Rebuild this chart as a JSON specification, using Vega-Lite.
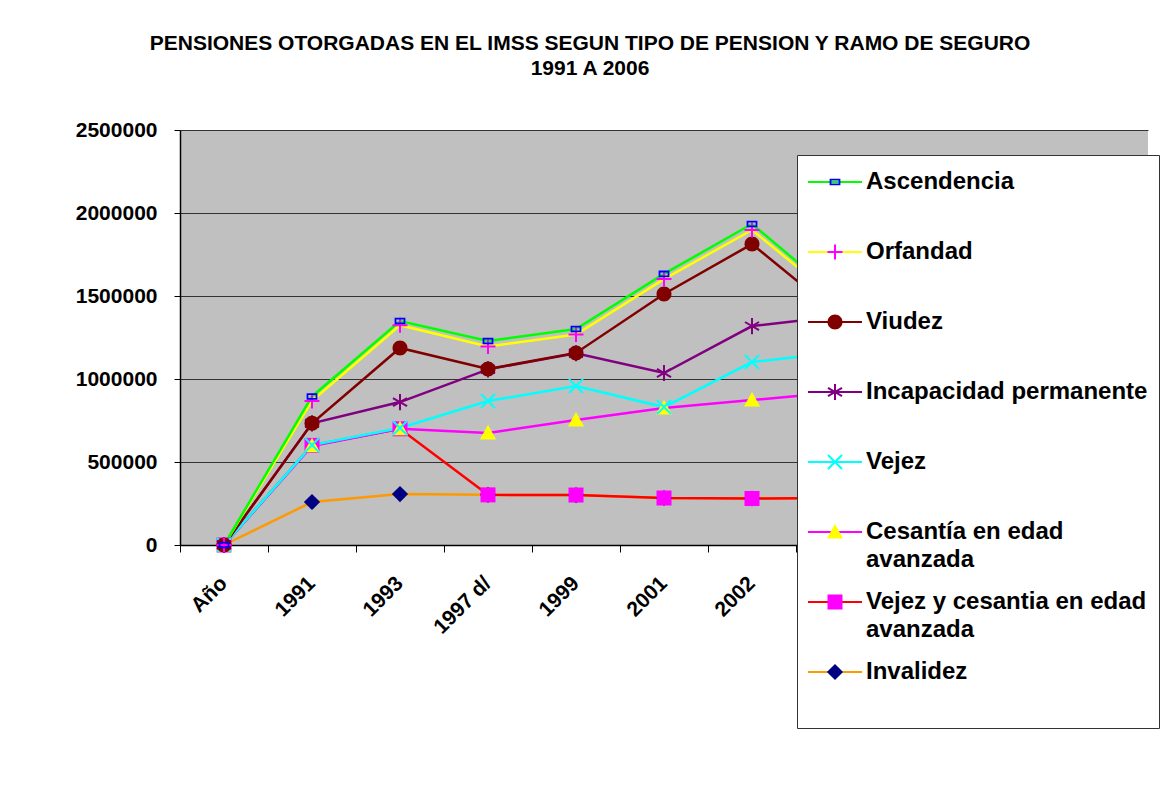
{
  "$schema": "https://vega.github.io/schema/vega-lite/v6.json",
  "autosize": {"type": "none"},
  "padding": {"left": 180, "top": 130, "right": 22, "bottom": 243},
  "width": 968,
  "height": 415,
  "background": "white",
  "config": {
    "font": "Liberation Sans",
    "view": {"stroke": null, "fill": "#C0C0C0"}
  },
  "title": {
    "text": ["PENSIONES OTORGADAS EN EL IMSS SEGUN TIPO DE PENSION Y RAMO DE SEGURO", "1991 A 2006"],
    "anchor": "middle",
    "frame": "group",
    "dx": -74,
    "offset": 40,
    "fontSize": 21,
    "fontWeight": "bold",
    "color": "black",
    "lineHeight": 25
  },
  "data": {
    "values": [
      {"serie": "Invalidez", "anio": "Año", "valor": 0},
      {"serie": "Invalidez", "anio": "1991", "valor": 259000},
      {"serie": "Invalidez", "anio": "1993", "valor": 307000},
      {"serie": "Invalidez", "anio": "1997 d/", "valor": 302000},
      {"serie": "Invalidez", "anio": "1999", "valor": 301000},
      {"serie": "Invalidez", "anio": "2001", "valor": 283000},
      {"serie": "Invalidez", "anio": "2002", "valor": 280000},
      {"serie": "Invalidez", "anio": "2003", "valor": 283000},
      {"serie": "Invalidez", "anio": "2004", "valor": 290000},
      {"serie": "Invalidez", "anio": "2005", "valor": 295000},
      {"serie": "Invalidez", "anio": "2006", "valor": 300000},
      {"serie": "Vejez y cesantia en edad avanzada", "anio": "Año", "valor": 0},
      {"serie": "Vejez y cesantia en edad avanzada", "anio": "1991", "valor": 600000},
      {"serie": "Vejez y cesantia en edad avanzada", "anio": "1993", "valor": 700000},
      {"serie": "Vejez y cesantia en edad avanzada", "anio": "1997 d/", "valor": 302000},
      {"serie": "Vejez y cesantia en edad avanzada", "anio": "1999", "valor": 301000},
      {"serie": "Vejez y cesantia en edad avanzada", "anio": "2001", "valor": 283000},
      {"serie": "Vejez y cesantia en edad avanzada", "anio": "2002", "valor": 280000},
      {"serie": "Vejez y cesantia en edad avanzada", "anio": "2003", "valor": 283000},
      {"serie": "Vejez y cesantia en edad avanzada", "anio": "2004", "valor": 290000},
      {"serie": "Vejez y cesantia en edad avanzada", "anio": "2005", "valor": 295000},
      {"serie": "Vejez y cesantia en edad avanzada", "anio": "2006", "valor": 300000},
      {"serie": "Cesantía en edad avanzada", "anio": "Año", "valor": 0},
      {"serie": "Cesantía en edad avanzada", "anio": "1991", "valor": 597000},
      {"serie": "Cesantía en edad avanzada", "anio": "1993", "valor": 700000},
      {"serie": "Cesantía en edad avanzada", "anio": "1997 d/", "valor": 675000},
      {"serie": "Cesantía en edad avanzada", "anio": "1999", "valor": 753000},
      {"serie": "Cesantía en edad avanzada", "anio": "2001", "valor": 825000},
      {"serie": "Cesantía en edad avanzada", "anio": "2002", "valor": 873000},
      {"serie": "Cesantía en edad avanzada", "anio": "2003", "valor": 922000},
      {"serie": "Cesantía en edad avanzada", "anio": "2004", "valor": 960000},
      {"serie": "Cesantía en edad avanzada", "anio": "2005", "valor": 1000000},
      {"serie": "Cesantía en edad avanzada", "anio": "2006", "valor": 1040000},
      {"serie": "Vejez", "anio": "Año", "valor": 0},
      {"serie": "Vejez", "anio": "1991", "valor": 602000},
      {"serie": "Vejez", "anio": "1993", "valor": 705000},
      {"serie": "Vejez", "anio": "1997 d/", "valor": 867000},
      {"serie": "Vejez", "anio": "1999", "valor": 958000},
      {"serie": "Vejez", "anio": "2001", "valor": 831000},
      {"serie": "Vejez", "anio": "2002", "valor": 1102000},
      {"serie": "Vejez", "anio": "2003", "valor": 1163000},
      {"serie": "Vejez", "anio": "2004", "valor": 1210000},
      {"serie": "Vejez", "anio": "2005", "valor": 1260000},
      {"serie": "Vejez", "anio": "2006", "valor": 1310000},
      {"serie": "Incapacidad permanente", "anio": "Año", "valor": 0},
      {"serie": "Incapacidad permanente", "anio": "1991", "valor": 733000},
      {"serie": "Incapacidad permanente", "anio": "1993", "valor": 861000},
      {"serie": "Incapacidad permanente", "anio": "1997 d/", "valor": 1058000},
      {"serie": "Incapacidad permanente", "anio": "1999", "valor": 1155000},
      {"serie": "Incapacidad permanente", "anio": "2001", "valor": 1036000},
      {"serie": "Incapacidad permanente", "anio": "2002", "valor": 1319000},
      {"serie": "Incapacidad permanente", "anio": "2003", "valor": 1380000},
      {"serie": "Incapacidad permanente", "anio": "2004", "valor": 1420000},
      {"serie": "Incapacidad permanente", "anio": "2005", "valor": 1470000},
      {"serie": "Incapacidad permanente", "anio": "2006", "valor": 1530000},
      {"serie": "Viudez", "anio": "Año", "valor": 0},
      {"serie": "Viudez", "anio": "1991", "valor": 733000},
      {"serie": "Viudez", "anio": "1993", "valor": 1187000},
      {"serie": "Viudez", "anio": "1997 d/", "valor": 1060000},
      {"serie": "Viudez", "anio": "1999", "valor": 1157000},
      {"serie": "Viudez", "anio": "2001", "valor": 1512000},
      {"serie": "Viudez", "anio": "2002", "valor": 1813000},
      {"serie": "Viudez", "anio": "2003", "valor": 1380000},
      {"serie": "Viudez", "anio": "2004", "valor": 1450000},
      {"serie": "Viudez", "anio": "2005", "valor": 1535000},
      {"serie": "Viudez", "anio": "2006", "valor": 1600000},
      {"serie": "Orfandad", "anio": "Año", "valor": 0},
      {"serie": "Orfandad", "anio": "1991", "valor": 868000},
      {"serie": "Orfandad", "anio": "1993", "valor": 1324000},
      {"serie": "Orfandad", "anio": "1997 d/", "valor": 1196000},
      {"serie": "Orfandad", "anio": "1999", "valor": 1268000},
      {"serie": "Orfandad", "anio": "2001", "valor": 1602000},
      {"serie": "Orfandad", "anio": "2002", "valor": 1898000},
      {"serie": "Orfandad", "anio": "2003", "valor": 1464000},
      {"serie": "Orfandad", "anio": "2004", "valor": 1535000},
      {"serie": "Orfandad", "anio": "2005", "valor": 1625000},
      {"serie": "Orfandad", "anio": "2006", "valor": 1695000},
      {"serie": "Ascendencia", "anio": "Año", "valor": 0},
      {"serie": "Ascendencia", "anio": "1991", "valor": 895000},
      {"serie": "Ascendencia", "anio": "1993", "valor": 1349000},
      {"serie": "Ascendencia", "anio": "1997 d/", "valor": 1229000},
      {"serie": "Ascendencia", "anio": "1999", "valor": 1301000},
      {"serie": "Ascendencia", "anio": "2001", "valor": 1633000},
      {"serie": "Ascendencia", "anio": "2002", "valor": 1934000},
      {"serie": "Ascendencia", "anio": "2003", "valor": 1488000},
      {"serie": "Ascendencia", "anio": "2004", "valor": 1560000},
      {"serie": "Ascendencia", "anio": "2005", "valor": 1650000},
      {"serie": "Ascendencia", "anio": "2006", "valor": 1720000}
    ]
  },
  "layer": [
    {
      "mark": {"type": "line", "strokeWidth": 2.5},
      "encoding": {
        "x": {
          "field": "anio", "type": "nominal",
          "scale": {"type": "band", "paddingInner": 0, "paddingOuter": 0,
            "domain": ["Año", "1991", "1993", "1997 d/", "1999", "2001", "2002", "2003", "2004", "2005", "2006"]},
          "axis": {
            "orient": "bottom", "title": null, "ticks": false, "domain": true, "domainColor": "black", "domainWidth": 1.5,
            "grid": false, "labelAngle": -45, "labelAlign": "right", "labelBaseline": "middle",
            "labelPadding": 35, "labelFontSize": 21, "labelFontWeight": "bold", "labelColor": "black",
            "labelOverlap": false, "labelLimit": 300
          }
        },
        "y": {
          "field": "valor", "type": "quantitative",
          "scale": {"domain": [0, 2500000], "nice": false},
          "axis": {
            "title": null, "values": [0, 500000, 1000000, 1500000, 2000000, 2500000], "format": "d",
            "grid": true, "gridColor": "#333333", "gridWidth": 1, "gridOpacity": 1,
            "domainColor": "black", "domainWidth": 1.5, "tickColor": "black", "tickSize": 6,
            "labelFontSize": 21, "labelFontWeight": "bold", "labelColor": "black", "labelPadding": 17
          }
        },
        "stroke": {
          "field": "serie", "type": "nominal",
          "sort": ["Ascendencia", "Orfandad", "Viudez", "Incapacidad permanente", "Vejez", "Cesantía en edad avanzada", "Vejez y cesantia en edad avanzada", "Invalidez"],
          "scale": {
            "range": ["#00FF00", "#FFFF00", "#800000", "#800080", "#00FFFF", "#FF00FF", "#FF0000", "#FF9900"]
          },
          "legend": {
            "orient": "none", "legendX": 617, "legendY": 25, "title": null,
            "symbolType": "M-1.8,0H1.8M0,-0.8M0,2.667", "symbolSize": 900, "symbolStrokeWidth": 2,
            "symbolOffset": 11,
            "labelFontSize": 24, "labelFontWeight": "bold", "labelColor": "black", "labelOffset": 15,
            "labelLimit": 500, "rowPadding": 9, "padding": 11,
            "fillColor": "white", "strokeColor": "#333333",
            "labelExpr": "datum.label == 'Cesantía en edad avanzada' ? ['Cesantía en edad', 'avanzada'] : datum.label == 'Vejez y cesantia en edad avanzada' ? ['Vejez y cesantia en edad', 'avanzada'] : datum.label",
            "encode": {"labels": {"update": {"lineHeight": {"value": 28}}}}
          }
        }
      }
    },
    {
      "mark": {"type": "point", "size": 900, "filled": true, "opacity": 1, "strokeWidth": 0},
      "encoding": {
        "x": {
          "field": "anio", "type": "nominal",
          "axis": {
            "orient": "bottom", "title": null, "labels": false, "ticks": true, "tickSize": 7, "tickColor": "black",
            "domain": false, "grid": false, "bandPosition": 0
          }
        },
        "y": {"field": "valor", "type": "quantitative"},
        "shape": {
          "field": "serie", "type": "nominal",
          "scale": {
            "domain": ["Ascendencia", "Orfandad", "Viudez", "Incapacidad permanente", "Vejez", "Cesantía en edad avanzada", "Vejez y cesantia en edad avanzada", "Invalidez"],
            "range": [
            "M-1.8,-0.8M1.8,2.667M-0.36,-0.22L0.36,-0.22L0.36,0.22L-0.36,0.22ZM-0.24,-0.1L-0.24,0.1L0.24,0.1L0.24,-0.1Z",
            "M-1.8,-0.8M1.8,2.667M-0.5,-0.067L-0.067,-0.067L-0.067,-0.5L0.067,-0.5L0.067,-0.067L0.5,-0.067L0.5,0.067L0.067,0.067L0.067,0.5L-0.067,0.5L-0.067,0.067L-0.5,0.067Z",
            "M-1.8,-0.8M1.8,2.667M-0.5,0A0.5,0.5,0,1,1,0.5,0A0.5,0.5,0,1,1,-0.5,0Z",
            "M-1.8,-0.8M1.8,2.667M-0.067,-0.54L0.067,-0.54L0.067,0.54L-0.067,0.54ZM-0.4365,-0.328L0.5035,0.212L0.4365,0.328L-0.5035,-0.212ZM-0.5035,0.212L0.4365,-0.328L0.5035,-0.212L-0.4365,0.328Z",
            "M-1.8,-0.8M1.8,2.667M-0.423,-0.517L0.517,0.423L0.423,0.517L-0.517,-0.423ZM-0.517,0.423L0.423,-0.517L0.517,-0.423L-0.423,0.517Z",
            "M-1.8,-0.8M1.8,2.667M0,-0.54L0.54,0.43L-0.54,0.43Z",
            "M-1.8,-0.8M1.8,2.667M-0.5,-0.5L0.5,-0.5L0.5,0.5L-0.5,0.5Z",
            "M-1.8,-0.8M1.8,2.667M0,-0.54L0.54,0L0,0.54L-0.54,0Z"
          ]},
          "legend": {
            "orient": "none", "legendX": 617, "legendY": 25, "title": null,
            "symbolSize": 900, "symbolStrokeWidth": 2, "symbolOpacity": 1, "symbolOffset": 11,
            "symbolStrokeColor": "transparent",
            "labelFontSize": 24, "labelFontWeight": "bold", "labelOffset": 15,
            "labelLimit": 500, "rowPadding": 9, "padding": 11,
            "labelExpr": "''"
          }
        },
        "color": {
          "field": "serie", "type": "nominal",
          "scale": {
            "domain": ["Ascendencia", "Orfandad", "Viudez", "Incapacidad permanente", "Vejez", "Cesantía en edad avanzada", "Vejez y cesantia en edad avanzada", "Invalidez"],
            "range": ["#0000FF", "#FF00FF", "#800000", "#800080", "#00FFFF", "#FFFF00", "#FF00FF", "#000080"]
          },
          "legend": {
            "orient": "none", "legendX": 617, "legendY": 25, "title": null,
            "symbolSize": 900, "symbolStrokeWidth": 2, "symbolOpacity": 1, "symbolOffset": 11,
            "symbolStrokeColor": "transparent",
            "labelFontSize": 24, "labelFontWeight": "bold", "labelOffset": 15,
            "labelLimit": 500, "rowPadding": 9, "padding": 11,
            "labelExpr": "''"
          }
        }
      }
    }
  ],
  "resolve": {"axis": {"x": "independent"}}
}
